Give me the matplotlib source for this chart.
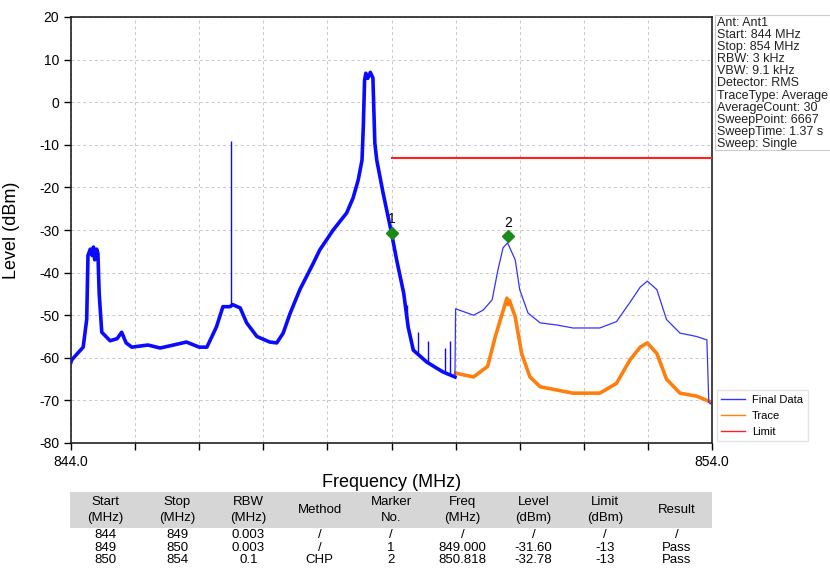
import matplotlib
matplotlib.use("Agg")
import matplotlib.pyplot as plt
from matplotlib.patches import Rectangle

plt.rcParams['font.family'] = ['Liberation Sans', 'DejaVu Sans']
plt.rcParams['axes.unicode_minus'] = False

# --- trace data (MHz, dBm) ---
# Final Data, 844-850 MHz (dense / noisy part)
fd_freq = [844.0, 844.01, 844.10, 844.19, 844.245, 844.265, 844.30, 844.33, 844.35, 844.37,
           844.40, 844.42, 844.44, 844.48, 844.61, 844.72, 844.79, 844.86, 844.95, 845.2,
           845.39, 845.6, 845.8, 846.0, 846.12, 846.27, 846.37, 846.48, 846.52, 846.64,
           846.74, 846.9, 847.1, 847.21, 847.31, 847.42, 847.57, 847.78, 847.88, 848.09,
           848.3, 848.4, 848.48, 848.54, 848.56, 848.58, 848.60, 848.63, 848.67, 848.71,
           848.74, 848.77, 848.87, 849.0, 849.08, 849.19, 849.26, 849.34, 849.55, 849.8,
           849.99]
fd_level = [-61.0, -60.5, -59.0, -57.5, -51.0, -36.0, -34.5, -36.0, -34.0, -37.0,
            -34.5, -35.5, -45.0, -54.0, -56.0, -55.5, -54.0, -56.5, -57.5, -57.0,
            -57.7, -57.0, -56.3, -57.5, -57.5, -52.7, -48.0, -48.0, -47.5, -48.3,
            -51.8, -55.0, -56.3, -56.5, -54.2, -49.5, -44.0, -37.8, -34.7, -30.0,
            -26.0, -22.5, -18.3, -13.6, -5.8, 5.2, 6.8, 5.6, 7.0, 5.7,
            -9.6, -13.6, -21.4, -30.7, -37.0, -44.8, -52.8, -58.2, -61.0, -63.3,
            -64.5]

# narrow spurs on Final Data: frequency, bottom, top
spur_freq = [846.50, 849.24, 849.42, 849.57, 849.83, 849.91]
spur_bottom = [-48.0, -51.0, -59.0, -61.0, -63.3, -63.8]
spur_top = [-9.0, -47.5, -54.0, -56.0, -57.7, -56.0]

# Final Data, 850-854 MHz
fd2_freq = [849.99, 850.0, 850.28, 850.43, 850.57, 850.66, 850.74, 850.81, 850.93, 851.0,
            851.13, 851.32, 851.58, 851.83, 852.25, 852.51, 852.72, 852.88, 852.99, 853.14,
            853.29, 853.5, 853.76, 853.92, 853.95, 854.0]
fd2_level = [-64.0, -48.5, -50.0, -48.8, -46.4, -39.4, -34.2, -33.0, -37.0, -44.0,
             -49.5, -51.8, -52.3, -53.0, -53.0, -51.5, -47.0, -43.4, -42.0, -44.0,
             -51.0, -54.2, -55.0, -55.8, -70.5, -71.0]

# Trace, 850-854 MHz
tr_freq = [850.0, 850.28, 850.5, 850.62, 850.73, 850.80, 850.82, 850.84, 850.93, 851.03,
           851.16, 851.32, 851.83, 852.25, 852.51, 852.72, 852.88, 852.99, 853.14, 853.29,
           853.5, 853.76, 853.92, 854.0]
tr_level = [-63.6, -64.5, -62.0, -55.0, -49.5, -46.0, -47.5, -46.5, -50.4, -59.0,
            -64.5, -66.8, -68.3, -68.3, -66.0, -60.5, -57.5, -56.5, -59.0, -65.0,
            -68.3, -69.0, -70.0, -70.5]

# Limit line
lim_freq = [849.0, 854.0]
lim_level = [-13.0, -13.0]

# Markers
mk_label = ["1", "2"]
mk_freq = [849.000, 850.818]
mk_level = [-30.6, -31.4]

info_lines = ["Ant: Ant1", "Start: 844 MHz", "Stop: 854 MHz", "RBW: 3 kHz", "VBW: 9.1 kHz",
              "Detector: RMS", "TraceType: Average", "AverageCount: 30", "SweepPoint: 6667",
              "SweepTime: 1.37 s", "Sweep: Single"]

# Result table
tbl_header = ["Start\n(MHz)", "Stop\n(MHz)", "RBW\n(MHz)", "Method", "Marker\nNo.",
              "Freq\n(MHz)", "Level\n(dBm)", "Limit\n(dBm)", "Result"]
tbl_rows = [
    ["844", "849", "0.003", "/", "/", "/", "/", "/", "/"],
    ["849", "850", "0.003", "/", "1", "849.000", "-31.60", "-13", "Pass"],
    ["850", "854", "0.1", "CHP", "2", "850.818", "-32.78", "-13", "Pass"],
]

W, H = 830, 571
fig = plt.figure(figsize=(W / 100, H / 100), dpi=100)
ax = fig.add_axes([71 / W, 1 - 443 / H, (712 - 71) / W, (443 - 17) / H])

blue = "#0a0aff"
orange = "#ff7f0e"
red = "#ff2020"

ax.plot(fd_freq, fd_level, color=blue, lw=2.6, solid_joinstyle="round", zorder=3)
ax.vlines(spur_freq, spur_bottom, spur_top, color=blue, lw=1.0, zorder=3)
ax.plot(fd2_freq, fd2_level, color="#3333ff", lw=0.9, label="Final Data", zorder=3)
ax.plot(tr_freq, tr_level, color=orange, lw=2.6, solid_joinstyle="round", label="Trace", zorder=2)
ax.plot(lim_freq, lim_level, color=red, lw=1.5, label="Limit", zorder=3)

ax.plot(mk_freq, mk_level, "D", color="#1a8a1a", ms=6, ls="none", zorder=4)
for lab, f, l in zip(mk_label, mk_freq, mk_level):
    ax.text(f, l + 1.5, lab, ha="center", va="bottom", fontsize=10)

ax.set_xlim(844, 854)
ax.set_ylim(-80, 20)
ax.set_xticks(range(844, 855))
ax.set_xticklabels(["844.0"] + [""] * 9 + ["854.0"])
ax.set_yticks(range(-80, 21, 10))
ax.tick_params(labelsize=10, direction="out", length=5, width=1)
ax.grid(True, color="#c8c8c8", ls=(0, (3, 3)), lw=0.7)
for s in ax.spines.values():
    s.set_linewidth(1.2)
    s.set_color("#222222")

ax.set_xlabel("Frequency (MHz)", fontsize=13, labelpad=4)
ax.set_ylabel("Level (dBm)", fontsize=13)
ax.yaxis.set_label_coords(-0.08, 0.5)

leg = ax.legend(loc="lower left", bbox_to_anchor=(711 / W, 1 - 447 / H), bbox_transform=fig.transFigure,
                fontsize=8, frameon=True, fancybox=False, edgecolor="#dddddd",
                handlelength=2.2, handletextpad=0.6, borderpad=0.4, labelspacing=0.55)
for h in leg.get_lines():
    h.set_linewidth(1.0)

# info box on the right
fig.patches.append(Rectangle((715 / W, 1 - 150 / H), 130 / W, 135 / H, transform=fig.transFigure,
                             facecolor="white", edgecolor="#cccccc", lw=0.8))
for i, line in enumerate(info_lines):
    fig.text(717 / W, 1 - (23 + 12.1 * i) / H, line, fontsize=9, va="center", ha="left", color="#222222")

# table
fig.patches.append(Rectangle((70 / W, 1 - 528 / H), 642 / W, 36 / H, transform=fig.transFigure,
                             facecolor="#d6d6d6", edgecolor="none"))
col_w = 642 / 9
for j, head in enumerate(tbl_header):
    cx = (70 + col_w * (j + 0.5)) / W
    fig.text(cx, 1 - 510 / H, head, ha="center", va="center", fontsize=9.5, linespacing=1.35)
    for i, row in enumerate(tbl_rows):
        fig.text(cx, 1 - (535.5 + 12.3 * i) / H, row[j], ha="center", va="center", fontsize=9.5)

fig.savefig("out.png", dpi=100)
